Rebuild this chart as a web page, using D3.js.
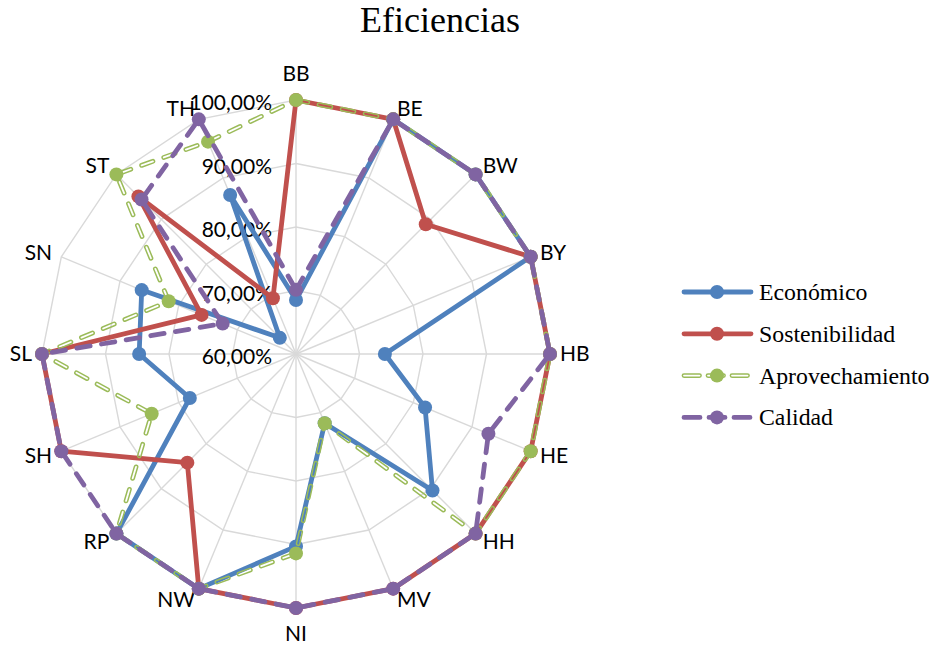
<!DOCTYPE html>
<html><head><meta charset="utf-8">
<script src="https://cdn.jsdelivr.net/npm/d3@7"></script>
<style>body{margin:0;background:#fff}</style>
</head><body><svg id="chart" width="932" height="646"></svg>
<script>
const title = "Eficiencias";
const categories = ["BB","BE","BW","BY","HB","HE","HH","MV","NI","NW","RP","SH","SL","SN","ST","TH"];
const economico       = [0.685,1,1,1,0.74,0.82,0.904,0.718,0.903,1,1,0.781,0.847,0.863,0.636,0.871];
const sostenibilidad  = [1,1,0.889,1,1,1,1,1,1,1,0.842,1,1,0.761,0.951,0.695];
const aprovechamiento = [1,1,1,1,1,1,1,0.718,0.914,1,1,0.846,1,0.817,1,0.962];
const calidad         = [0.701,1,1,1,1,0.928,1,1,1,1,1,1,1,0.725,0.944,1];
const seriesNames = ["Económico","Sostenibilidad","Aprovechamiento","Calidad"];
const seriesValues = [economico, sostenibilidad, aprovechamiento, calidad];
const seriesColors = ["#4F81BD","#C0504D","#9BBB59","#8064A2"];
const tickValues = [0.6,0.7,0.8,0.9,1.0];

const svg = d3.select("#chart");
const cx = 296, cy = 354, R = 254;
const labelFont = "Lato, 'Open Sans', sans-serif";
const serifFont = "'Liberation Serif', 'Times New Roman', serif";

const rScale = d3.scaleLinear().domain([0.6, 1.0]).range([0, R]);
const aScale = d3.scaleBand().domain(categories).range([0, 2 * Math.PI]).paddingInner(0).paddingOuter(0);
const fmt = d3.formatLocale({decimal: ",", thousands: ".", grouping: [3], currency: ["", "€"]}).format(".2%");

// Title
svg.append("text").attr("x", 440).attr("y", 32).attr("text-anchor", "middle")
  .attr("font-family", serifFont).attr("font-size", 36).attr("fill", "#000").text(title);

const g = svg.append("g").attr("transform", `translate(${cx},${cy})`);

// grid rings
const ringLine = d3.lineRadial().angle(c => aScale(c)).curve(d3.curveLinearClosed);
tickValues.filter(t => t > 0.6).forEach(t => {
  g.append("path").attr("d", ringLine.radius(rScale(t))(categories))
    .attr("fill", "none").attr("stroke", "#D9D9D9").attr("stroke-width", 1.4);
});
// spokes
categories.forEach(c => {
  const a = aScale(c);
  g.append("line").attr("x1", 0).attr("y1", 0)
    .attr("x2", rScale(1.0) * Math.sin(a)).attr("y2", -rScale(1.0) * Math.cos(a))
    .attr("stroke", "#D9D9D9").attr("stroke-width", 1.4);
});

// value tick labels
tickValues.forEach(t => {
  g.append("text").attr("x", -24).attr("y", -rScale(t) + 10)
    .attr("text-anchor", "end").attr("font-family", labelFont).attr("font-size", 21)
    .attr("fill", "#000").text(fmt(t));
});

// category labels
categories.forEach(c => {
  const a = aScale(c), s = Math.sin(a), co = Math.cos(a);
  const px = rScale(1.0) * s, py = -rScale(1.0) * co;
  let anchor = "middle";
  if (s > 0.1) anchor = "start"; else if (s < -0.1) anchor = "end";
  const dy = Math.abs(s) < 0.1 ? -26 * co : -12 * co;
  g.append("text").attr("x", px + 10 * s).attr("y", py + dy)
    .attr("dy", "0.35em").attr("text-anchor", anchor)
    .attr("font-family", labelFont).attr("font-size", 21).attr("fill", "#000").text(c);
});

const defs = svg.append("defs");
const lineGen = d3.lineRadial().angle(d => aScale(d.c)).radius(d => rScale(d.v)).curve(d3.curveLinearClosed);

const styles = [
  {dash: null}, {dash: null}, {dash: "12,11.5", hollow: true}, {dash: "13.5,11.5"}
];

seriesValues.forEach((vals, i) => {
  const data = categories.map((c, k) => ({c, v: vals[k]}));
  const d = lineGen(data);
  const col = seriesColors[i];
  const st = styles[i];
  const sg = g.append("g");
  const p = sg.append("path").attr("d", d).attr("fill", "none").attr("stroke", col)
    .attr("stroke-width", 4.8).attr("stroke-linejoin", "round");
  if (st.dash) p.attr("stroke-dasharray", st.dash).attr("stroke-linecap", "round");
  if (st.hollow) {
    const m = defs.append("mask").attr("id", "mask" + i).attr("maskUnits", "userSpaceOnUse")
      .attr("x", -cx).attr("y", -cy).attr("width", 932).attr("height", 646);
    m.append("rect").attr("x", -cx).attr("y", -cy).attr("width", 932).attr("height", 646).attr("fill", "#fff");
    m.append("path").attr("d", d).attr("fill", "none").attr("stroke", "#000")
      .attr("stroke-width", 1.8).attr("stroke-dasharray", st.dash).attr("stroke-linecap", "round");
    p.attr("mask", `url(#mask${i})`);
  }
  sg.selectAll("circle").data(data).join("circle")
    .attr("cx", d => rScale(d.v) * Math.sin(aScale(d.c)))
    .attr("cy", d => -rScale(d.v) * Math.cos(aScale(d.c)))
    .attr("r", 7).attr("fill", col);
});

// Legend
const legend = svg.append("g");
const legendDash = ["", "", "15.5,8.5", "16,9"];
seriesNames.forEach((name, i) => {
  const y = 292 + i * 41.8;
  const col = seriesColors[i];
  const lg = legend.append("g");
  const lp = lg.append("line").attr("x1", 684).attr("x2", 751).attr("y1", y).attr("y2", y)
    .attr("stroke", col).attr("stroke-width", 4.8).attr("stroke-linecap", "round");
  if (legendDash[i]) lp.attr("stroke-dasharray", legendDash[i]);
  if (i === 2) {
    lg.append("line").attr("x1", 684).attr("x2", 751).attr("y1", y).attr("y2", y)
      .attr("stroke", "#fff").attr("stroke-width", 1.8).attr("stroke-linecap", "round")
      .attr("stroke-dasharray", legendDash[i]);
  }
  lg.append("circle").attr("cx", 717).attr("cy", y).attr("r", 7).attr("fill", col);
  lg.append("text").attr("x", 759).attr("y", y + 8).attr("font-family", serifFont)
    .attr("font-size", 23.8).attr("fill", "#000").text(name);
});
</script></body></html>
